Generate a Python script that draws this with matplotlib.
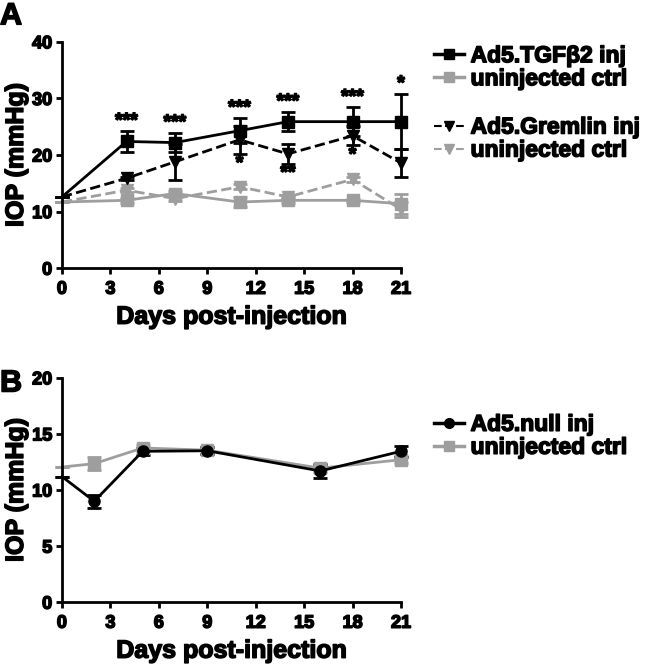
import matplotlib.pyplot as plt
import matplotlib.patheffects as pe
import numpy as np
from matplotlib.lines import Line2D

plt.rcParams["font.family"] = ["Liberation Sans", "DejaVu Sans"]
plt.rcParams["font.weight"] = "bold"

GREY = "#9e9e9e"
HEAVY = [pe.withStroke(linewidth=1.1, foreground="black")]

# panel A
days_a = [0, 4, 7, 11, 14, 18, 21]
tgf_mean = [12.6, 22.4, 22.2, 24.3, 25.9, 25.9, 25.9]
tgf_sem = [0, 1.8, 1.7, 2.2, 1.7, 2.5, 4.9]
tgf_ctrl_mean = [11.7, 12.0, 13.2, 11.7, 12.0, 12.0, 11.4]
tgf_ctrl_sem = [0, 0.4, 0.4, 0.8, 0.5, 0.3, 1.8]
grem_mean = [12.6, 15.9, 18.8, 22.7, 20.2, 23.4, 18.6]
grem_sem = [0, 0.3, 3.2, 2.5, 1.7, 1.7, 2.5]
grem_ctrl_mean = [11.7, 13.8, 12.3, 14.4, 12.6, 15.7, 10.4]
grem_ctrl_sem = [0, 0.4, 0.4, 0.4, 0.4, 0.4, 1.3]
stars_above = ["", "***", "***", "***", "***", "***", "*"]
stars_below = ["", "", "", "*", "**", "*", ""]

# panel B
days_b = [0, 2, 5, 9, 16, 21]
null_mean = [11.2, 9.0, 13.45, 13.5, 11.7, 13.45]
null_sem = [0, 0.6, 0.3, 0.3, 0.6, 0.5]
null_ctrl_mean = [12.05, 12.35, 13.75, 13.55, 11.95, 12.7]
null_ctrl_sem = [0, 0.6, 0.3, 0.3, 0.3, 0.3]

fig = plt.figure(figsize=(6.52, 6.64), dpi=100)
ax_a = fig.add_axes([0.095, 0.596, 0.52, 0.341])
ax_b = fig.add_axes([0.095, 0.093, 0.52, 0.338])

ekw = dict(lw=2, ms=8, elinewidth=2, capsize=5, capthick=2, clip_on=False,
           markevery=slice(1, None))


def style(ax, ymax, ystep):
    ax.set_xlim(0, 21)
    ax.set_ylim(0, ymax)
    ax.set_xticks(np.arange(0, 22, 3))
    ax.set_yticks(np.arange(0, ymax + 1, ystep))
    for s in ["top", "right"]:
        ax.spines[s].set_visible(False)
    for s in ["left", "bottom"]:
        ax.spines[s].set_linewidth(2)
    ax.tick_params(width=2, length=4, labelsize=13, pad=3)
    ax.tick_params(axis="x", pad=5)
    ax.set_xlabel("Days post-injection", fontsize=18, fontweight="bold", labelpad=5,
                  path_effects=HEAVY)
    ax.set_ylabel("IOP (mmHg)", fontsize=18, fontweight="bold", labelpad=3,
                  path_effects=HEAVY)
    for lab in ax.get_xticklabels() + ax.get_yticklabels():
        lab.set_fontweight("bold")
        lab.set_path_effects(HEAVY)


def legend(ax, handles, labels, anchor):
    leg = ax.legend(handles, labels, loc="upper left", bbox_to_anchor=anchor,
                    frameon=False, handlelength=1.3, handletextpad=0.3, labelspacing=0.0,
                    borderaxespad=0, prop={"weight": "bold", "size": 16.5})
    for t in leg.get_texts():
        t.set_path_effects(HEAVY)
    return leg


ax = ax_a
ax.errorbar(days_a, tgf_ctrl_mean, yerr=tgf_ctrl_sem, color=GREY, marker="s", ls="-", **ekw)
ax.errorbar(days_a, grem_ctrl_mean, yerr=grem_ctrl_sem, color=GREY, marker="v", ls="--", **ekw)
ax.errorbar(days_a, grem_mean, yerr=grem_sem, color="black", marker="v", ls="--", **ekw)
ax.errorbar(days_a, tgf_mean, yerr=tgf_sem, color="black", marker="s", ls="-", **ekw)
for d, m, e, s in zip(days_a, tgf_mean, tgf_sem, stars_above):
    if s:
        ax.text(d, m + e + 0.2, s, ha="center", va="bottom", fontsize=14,
                fontweight="bold", path_effects=HEAVY)
for d, m, e, s in zip(days_a, grem_mean, grem_sem, stars_below):
    if s:
        ax.text(d, m - e - 0.3, s, ha="center", va="top", fontsize=14,
                fontweight="bold", path_effects=HEAVY)
style(ax, 40, 10)

h1 = [Line2D([], [], color="black", marker="s", ls="-", lw=2.5, ms=7),
      Line2D([], [], color=GREY, marker="s", ls="-", lw=2.5, ms=7)]
h2 = [Line2D([], [], color="black", marker="v", ls="--", lw=1.5, ms=7),
      Line2D([], [], color=GREY, marker="v", ls="--", lw=1.5, ms=7)]
leg1 = legend(ax, h1, ["Ad5.TGFβ2 inj", "uninjected ctrl"], (1.07, 1.03))
ax.add_artist(leg1)
legend(ax, h2, ["Ad5.Gremlin inj", "uninjected ctrl"], (1.07, 0.715))

ax = ax_b
ax.errorbar(days_b, null_ctrl_mean, yerr=null_ctrl_sem, color=GREY, marker="s", ls="-", **ekw)
ax.errorbar(days_b, null_mean, yerr=null_sem, color="black", marker="o", ls="-", **ekw)
style(ax, 20, 5)
h3 = [Line2D([], [], color="black", marker="o", ls="-", lw=2.5, ms=7),
      Line2D([], [], color=GREY, marker="s", ls="-", lw=2.5, ms=7)]
legend(ax, h3, ["Ad5.null inj", "uninjected ctrl"], (1.07, 0.885))

fig.text(0.0, 0.998, "A", fontsize=22, fontweight="bold", va="top", path_effects=HEAVY)
fig.text(0.0, 0.445, "B", fontsize=22, fontweight="bold", va="top", path_effects=HEAVY)

fig.savefig("out.png", dpi=100)
